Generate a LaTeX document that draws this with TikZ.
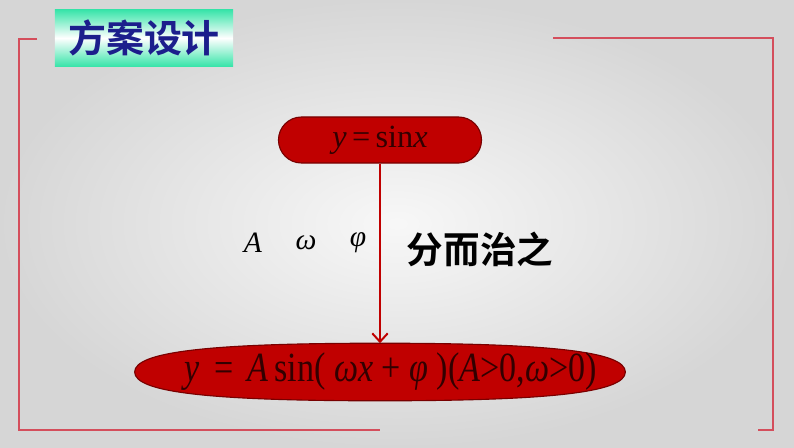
\documentclass[tikz,border=0pt]{standalone}
\usepackage{amsmath}
\usepackage{fontspec}
\setmainfont{Liberation Serif}
\newfontfamily\cjkhei{Noto Sans CJK SC}[BoldFont={* Bold}]
\usetikzlibrary{arrows.meta,calc}
\pgfdeclarelayer{background}
\pgfsetlayers{background,main}
\definecolor{darkred}{RGB}{192,0,0}
\definecolor{edgered}{RGB}{120,0,0}
\definecolor{framered}{RGB}{212,78,92}
\definecolor{mint}{RGB}{58,228,170}
\definecolor{navy}{RGB}{28,30,140}
\definecolor{textdark}{RGB}{50,0,0}

\begin{document}
\begin{tikzpicture}[x=0.025cm,y=-0.025cm]
\tikzstyle{title} = [minimum width=4.45cm,minimum height=1.4cm,inner sep=0pt,top color=mint,bottom color=mint,middle color=white,font=\cjkhei\bfseries\fontsize{27}{27}\selectfont,text=navy];
\tikzstyle{pill}=[rounded corners=0.575cm,minimum width=5.075cm,minimum height=1.15cm,inner sep=0pt,fill=darkred,draw=edgered,thick,text=textdark,font=\fontsize{23}{23}\selectfont];
\tikzstyle{goal}=[minimum width=12.25cm,minimum height=1.425cm,inner sep=0pt,text=textdark,font=\fontsize{25}{25}\selectfont];
\tikzstyle{blob}=[fill=darkred,draw=edgered,thick];
\tikzstyle{param}=[font=\fontsize{21}{21}\selectfont\itshape];
\tikzstyle{frame}=[framered,line width=1.2pt];
\tikzstyle{flow}=[-{Straight Barb[length=6pt,width=11pt]},darkred,line width=1.4pt];
\useasboundingbox (0,0) rectangle (794,447);
% frame
\draw [frame] (37,39) -- (19,39) -- (19,430) -- (380,430);
\draw [frame] (553,38) -- (773,38) -- (773,430) -- (758,430);
% title
\node [title] (t) at (144,38) {方案设计};
% nodes
\node [pill] (v1) at (380,140) {\textit{y}\,=\,sin\textit{x}};
\node [goal] (v2) at (380,372) {\hspace*{0.55cm}\resizebox{10.3cm}{0.72cm}{\textit{y}\, = \,\textit{A}\,sin( \textit{ωx} + \textit{φ} )(\textit{A}>0,\textit{ω}>0)}};
\node [param] (pa) at (253,243) {A};
\node [param] (pw) at (306,243) {ω};
\node [param] (pf) at (358,243) {φ};
\node [font=\cjkhei\bfseries\fontsize{26}{26}\selectfont] (fz) at (480,249) {分而治之};
\draw [flow] (v1) -- (v2);
% background and the flat ellipse behind v2
\begin{pgfonlayer}{background}
\shade [inner color=gray!6,outer color=gray!32] (0,0) rectangle (794,447);
\draw [blob] (v2.west)
  .. controls ($(v2.west)!0.7!(v2.north west)$) and ($(v2.north)!0.7!(v2.north west)$) .. (v2.north)
  .. controls ($(v2.north)!0.7!(v2.north east)$) and ($(v2.east)!0.7!(v2.north east)$) .. (v2.east)
  .. controls ($(v2.east)!0.7!(v2.south east)$) and ($(v2.south)!0.7!(v2.south east)$) .. (v2.south)
  .. controls ($(v2.south)!0.7!(v2.south west)$) and ($(v2.west)!0.7!(v2.south west)$) .. cycle;
\end{pgfonlayer}
\end{tikzpicture}
\end{document}
